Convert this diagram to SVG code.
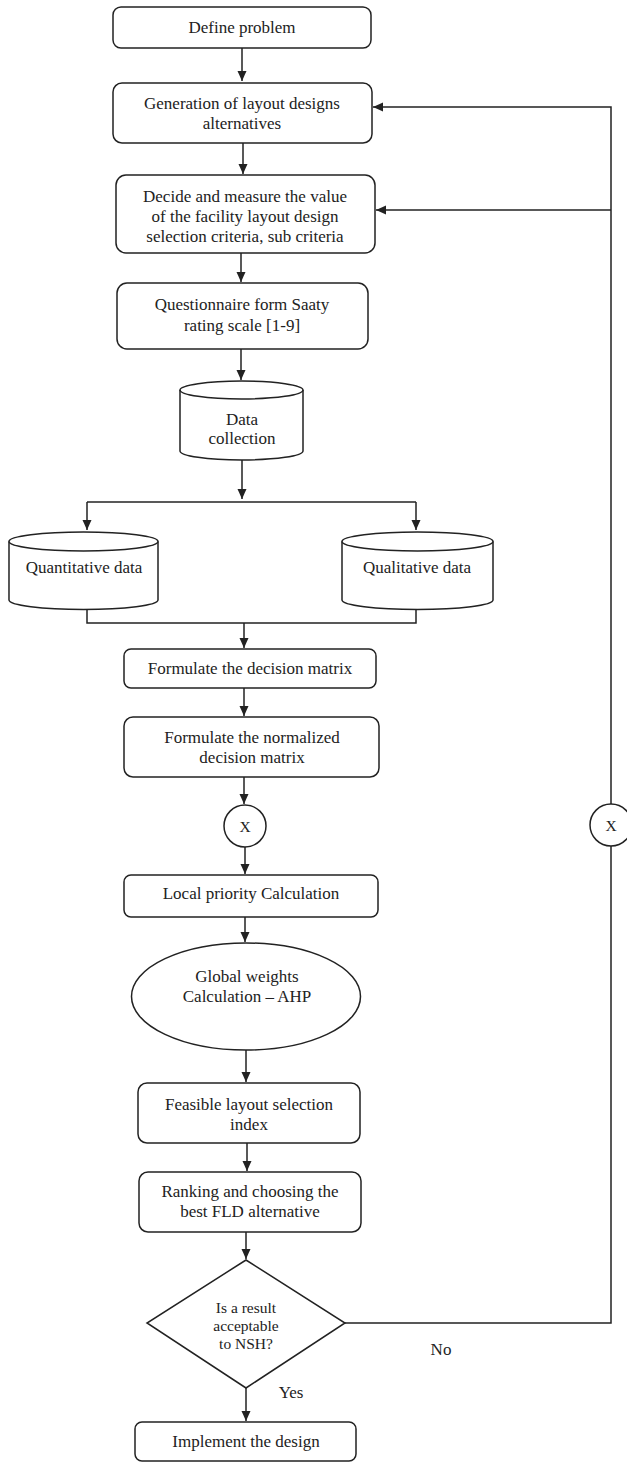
<svg xmlns="http://www.w3.org/2000/svg" width="627" height="1462" viewBox="0 0 627 1462">
<style>
.box{fill:#fff;stroke:#222;stroke-width:1.5}
.t{font-family:"Liberation Serif","Times New Roman",serif;font-size:17px;fill:#222;text-anchor:middle}
.ts{font-family:"Liberation Serif","Times New Roman",serif;font-size:15.5px;fill:#222;text-anchor:middle}
.c{fill:none;stroke:#222;stroke-width:1.5}
</style>
<defs>
<marker id="ah" markerUnits="userSpaceOnUse" markerWidth="10" markerHeight="10" refX="10" refY="4.5" orient="auto">
<path d="M0,0 L10,4.5 L0,9 z" fill="#222"/>
</marker>
</defs>
<rect width="627" height="1462" fill="#fff"/>
<g id="connectors">
<line class="c" x1="242" y1="48" x2="242" y2="81" marker-end="url(#ah)"/>
<line class="c" x1="243" y1="143" x2="243" y2="174" marker-end="url(#ah)"/>
<line class="c" x1="241" y1="253" x2="241" y2="282" marker-end="url(#ah)"/>
<line class="c" x1="241" y1="349" x2="241" y2="380" marker-end="url(#ah)"/>
<line class="c" x1="242" y1="460" x2="242" y2="499" marker-end="url(#ah)"/>
<polyline class="c" points="87,502 416,502"/>
<line class="c" x1="87" y1="502" x2="87" y2="530" marker-end="url(#ah)"/>
<line class="c" x1="416" y1="502" x2="416" y2="530" marker-end="url(#ah)"/>
<polyline class="c" points="87,609 87,623 416,623 416,609"/>
<line class="c" x1="244" y1="623" x2="244" y2="648" marker-end="url(#ah)"/>
<line class="c" x1="244" y1="688" x2="244" y2="716" marker-end="url(#ah)"/>
<line class="c" x1="244" y1="777" x2="244" y2="804" marker-end="url(#ah)"/>
<line class="c" x1="245" y1="847" x2="245" y2="874" marker-end="url(#ah)"/>
<line class="c" x1="245" y1="917" x2="245" y2="942" marker-end="url(#ah)"/>
<line class="c" x1="246" y1="1050" x2="246" y2="1082" marker-end="url(#ah)"/>
<line class="c" x1="247" y1="1143" x2="247" y2="1171" marker-end="url(#ah)"/>
<line class="c" x1="246" y1="1232" x2="246" y2="1259" marker-end="url(#ah)"/>
<line class="c" x1="246" y1="1388" x2="246" y2="1421" marker-end="url(#ah)"/>
<polyline class="c" points="345,1323 611,1323 611,846"/>
<polyline class="c" points="611,804 611,107 373,107" marker-end="url(#ah)"/>
<line class="c" x1="611" y1="210" x2="376" y2="210" marker-end="url(#ah)"/>
<text class="t" x="441" y="1355">No</text>
<text class="t" x="291" y="1398">Yes</text>
</g>
<g id="n1"><rect class="box" x="113" y="7" width="258" height="41" rx="8"/><text class="t" x="242" y="33">Define problem</text></g>
<g id="n2"><rect class="box" x="113" y="83" width="259" height="60" rx="9"/><text class="t" x="242" y="109">Generation of layout designs</text><text class="t" x="242" y="129">alternatives</text></g>
<g id="n3"><rect class="box" x="116" y="175" width="259" height="78" rx="10"/><text class="t" x="245" y="202">Decide and measure the value</text><text class="t" x="245" y="222">of the facility layout design</text><text class="t" x="245" y="242">selection criteria, sub criteria</text></g>
<g id="n4"><rect class="box" x="117" y="283" width="251" height="66" rx="10"/><text class="t" x="242" y="310">Questionnaire form Saaty</text><text class="t" x="242" y="331">rating scale [1-9]</text></g>
<g id="n5"><path class="box" d="M180,390 A61.5,9 0 0 1 303,390 L303,451 A61.5,9 0 0 1 180,451 Z"/><path class="c" d="M180,390 A61.5,9 0 0 0 303,390"/><text class="t" x="242" y="425">Data</text><text class="t" x="242" y="444">collection</text></g>
<g id="n6"><path class="box" d="M9,541.5 A74.5,9.5 0 0 1 158,541.5 L158,600 A74.5,9.5 0 0 1 9,600 Z"/><path class="c" d="M9,541.5 A74.5,9.5 0 0 0 158,541.5"/><text class="t" x="84" y="573">Quantitative data</text></g>
<g id="n7"><path class="box" d="M342,541.5 A75.5,9.5 0 0 1 493,541.5 L493,600 A75.5,9.5 0 0 1 342,600 Z"/><path class="c" d="M342,541.5 A75.5,9.5 0 0 0 493,541.5"/><text class="t" x="417" y="573">Qualitative data</text></g>
<g id="n8"><rect class="box" x="124" y="649" width="252" height="39" rx="7"/><text class="t" x="250" y="674">Formulate the decision matrix</text></g>
<g id="n9"><rect class="box" x="124" y="717" width="255" height="60" rx="9"/><text class="t" x="252" y="743">Formulate the normalized</text><text class="t" x="252" y="763">decision matrix</text></g>
<g id="n10"><circle class="box" cx="245" cy="826" r="21"/><text class="ts" x="245" y="832">X</text></g>
<g id="n11"><rect class="box" x="124" y="875" width="254" height="42" rx="7"/><text class="t" x="251" y="899">Local priority Calculation</text></g>
<g id="n12"><ellipse class="box" cx="246" cy="996.5" rx="114.5" ry="53.5"/><text class="t" x="247" y="982">Global weights</text><text class="t" x="247" y="1002">Calculation – AHP</text></g>
<g id="n13"><rect class="box" x="138" y="1083" width="222" height="60" rx="9"/><text class="t" x="249" y="1110">Feasible layout selection</text><text class="t" x="249" y="1130">index</text></g>
<g id="n14"><rect class="box" x="139" y="1172" width="222" height="60" rx="9"/><text class="t" x="250" y="1197">Ranking and choosing the</text><text class="t" x="250" y="1217">best FLD alternative</text></g>
<g id="n15"><polygon class="box" points="246,1260 345,1323 246,1388 147,1323"/><text class="ts" x="246" y="1313">Is a result</text><text class="ts" x="246" y="1331">acceptable</text><text class="ts" x="246" y="1349">to NSH?</text></g>
<g id="n16"><rect class="box" x="135" y="1422" width="221" height="39" rx="7"/><text class="t" x="246" y="1447">Implement the design</text></g>
<g id="n17"><circle class="box" cx="611" cy="825" r="21"/><text class="ts" x="611" y="831">X</text></g>
</svg>
